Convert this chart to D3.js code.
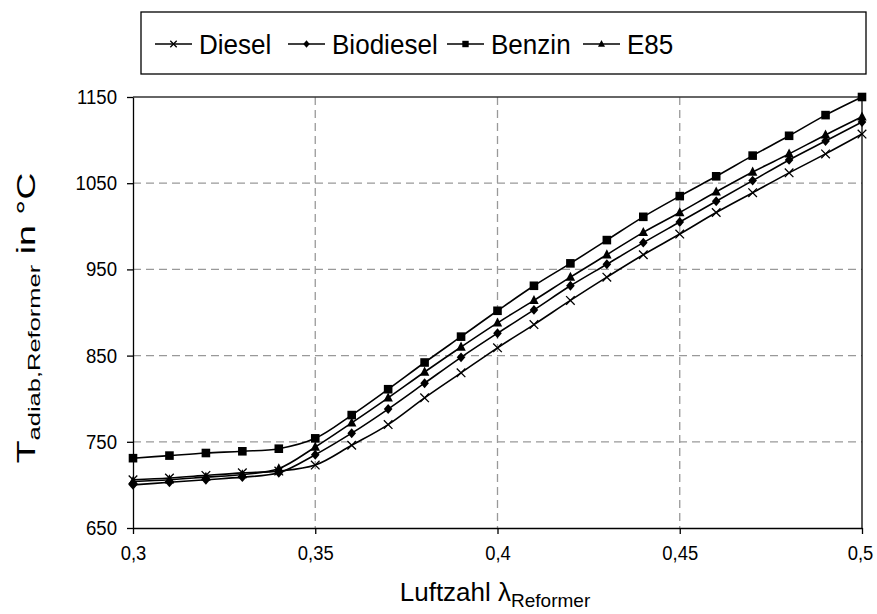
<!DOCTYPE html>
<html><head><meta charset="utf-8">
<script src="https://cdn.jsdelivr.net/npm/d3@7"></script>
<style>body{margin:0;background:#fff} text{font-family:"Liberation Sans",Arial,sans-serif;fill:#000}</style>
</head><body><svg id="c" width="877" height="614"></svg>
<script>
const lambdaValues = [0.30,0.31,0.32,0.33,0.34,0.35,0.36,0.37,0.38,0.39,0.40,0.41,0.42,0.43,0.44,0.45,0.46,0.47,0.48,0.49,0.50];
const diesel    = [706,708,711,714,716,723,746,770,801,830,859,886,914,941,967,991,1016,1039,1062,1084,1107];
const biodiesel = [700,703,706,709,714,735,760,788,818,848,876,903,931,956,981,1005,1029,1053,1077,1099,1121];
const benzin    = [731,734,737,739,742,754,781,811,842,872,902,931,957,984,1011,1035,1058,1082,1105,1129,1150];
const e85       = [704,706,709,712,719,744,772,801,831,860,888,914,941,967,993,1016,1040,1063,1084,1106,1127];
const seriesNames = ["Diesel","Biodiesel","Benzin","E85"];
const markerTypes = ["x","diamond","square","triangle"];
const xTicks = [0.30,0.35,0.40,0.45,0.50];
const xTickLabels = ["0,3","0,35","0,4","0,45","0,5"];
const yTicks = [650,750,850,950,1050,1150];

const seriesData = [diesel, biodiesel, benzin, e85];
const svg = d3.select("#c");
const L = 133, R = 862, T = 97, B = 528;
const x = d3.scaleLinear().domain([0.3,0.5]).range([L,R]);
const y = d3.scaleLinear().domain([650,1150]).range([B,T]);

function squeeze(sel, f){
  sel.each(function(){
    const w = this.getComputedTextLength();
    d3.select(this).attr("textLength", w*f).attr("lengthAdjust","spacingAndGlyphs");
  });
}

// grid
const g = svg.append("g");
g.selectAll("line.vg").data(xTicks.slice(1,-1)).join("line")
  .attr("x1",d=>x(d)).attr("x2",d=>x(d)).attr("y1",T).attr("y2",B)
  .attr("stroke","#999").attr("stroke-width",1.3).attr("stroke-dasharray","8,5");
g.selectAll("line.hg").data(yTicks.slice(1,-1)).join("line")
  .attr("y1",d=>y(d)).attr("y2",d=>y(d)).attr("x1",L).attr("x2",R)
  .attr("stroke","#999").attr("stroke-width",1.3).attr("stroke-dasharray","8,5");
svg.append("line").attr("x1",L).attr("x2",R).attr("y1",T).attr("y2",T).attr("stroke","#333").attr("stroke-width",1.3);
svg.append("line").attr("x1",R).attr("x2",R).attr("y1",T).attr("y2",B).attr("stroke","#000").attr("stroke-width",1.3);

// axes
const xAxis = d3.axisBottom(x).tickValues(xTicks).tickFormat((d,i)=>xTickLabels[i]).tickSize(6).tickSizeOuter(0).tickPadding(12);
const yAxis = d3.axisLeft(y).tickValues(yTicks).tickFormat(d3.format("d")).tickSize(6).tickSizeOuter(0).tickPadding(10);
const gx = svg.append("g").attr("transform",`translate(0,${B})`).call(xAxis);
const gy = svg.append("g").attr("transform",`translate(${L},0)`).call(yAxis);
[gx,gy].forEach(a=>{
  a.selectAll("path,line").attr("stroke","#000").attr("stroke-width",1.3);
  a.selectAll("text").style("font-family","Liberation Sans, Arial, sans-serif").style("font-size","20px");
});
squeeze(gy.selectAll("text"), 0.93);
squeeze(gx.selectAll("text"), 0.92);
gx.selectAll(".tick").filter(d=>d===0.5).select("text").attr("dx",-2);

// lines
const line = d3.line().x((d,i)=>x(lambdaValues[i])).y(d=>y(d)).curve(d3.curveCatmullRom.alpha(0.5));
function marker(sel, type, s){
  if(type==="x"){
    sel.append("path").attr("d",`M${-s},${-s}L${s},${s}M${-s},${s}L${s},${-s}`).attr("stroke","#000").attr("stroke-width",1.3).attr("fill","none");
  } else if(type==="diamond"){
    sel.append("path").attr("d",`M0,${-s*1.15}L${s},0L0,${s*1.15}L${-s},0Z`).attr("fill","#000");
  } else if(type==="square"){
    sel.append("path").attr("d",`M${-s},${-s}H${s}V${s}H${-s}Z`).attr("fill","#000");
  } else {
    sel.append("path").attr("d",`M0,${-s*1.25}L${s*1.1},${s*0.85}L${-s*1.1},${s*0.85}Z`).attr("fill","#000");
  }
}
seriesData.forEach((vals,k)=>{
  svg.append("path").attr("d",line(vals)).attr("fill","none").attr("stroke","#000").attr("stroke-width",1.6);
  vals.forEach((v,i)=>{
    const m = svg.append("g").attr("transform",`translate(${x(lambdaValues[i])},${y(v)})`);
    marker(m, markerTypes[k], 4.3);
  });
});

// legend
svg.append("rect").attr("x",141).attr("y",12).attr("width",725).attr("height",62)
  .attr("fill","#fff").attr("stroke","#000").attr("stroke-width",1.3);
const legX = [155,288,447,583];
seriesNames.forEach((n,k)=>{
  const lg = svg.append("g").attr("transform",`translate(${legX[k]},44)`);
  lg.append("line").attr("x1",0).attr("x2",37).attr("stroke","#000").attr("stroke-width",1.6);
  const m = lg.append("g").attr("transform","translate(18.5,0)");
  marker(m, markerTypes[k], 3.2);
  const t = lg.append("text").attr("x",44).attr("y",10).style("font-size","28px").text(n);
  squeeze(t, 0.93);
});

// axis titles
const xt = svg.append("text").attr("x",495).attr("y",601).attr("text-anchor","middle").style("font-size","26px");
xt.append("tspan").text("Luftzahl λ");
xt.append("tspan").attr("dy",6).style("font-size","19px").text("Reformer");

const yt = svg.append("text").attr("transform","translate(35,318) rotate(-90) scale(1.5,1)").attr("text-anchor","middle").style("font-size","25px");
yt.append("tspan").text("T");
yt.append("tspan").attr("dy",5).style("font-size","17px").text("adiab,Reformer");
yt.append("tspan").attr("dy",-5).text(" in °C");
</script></body></html>
